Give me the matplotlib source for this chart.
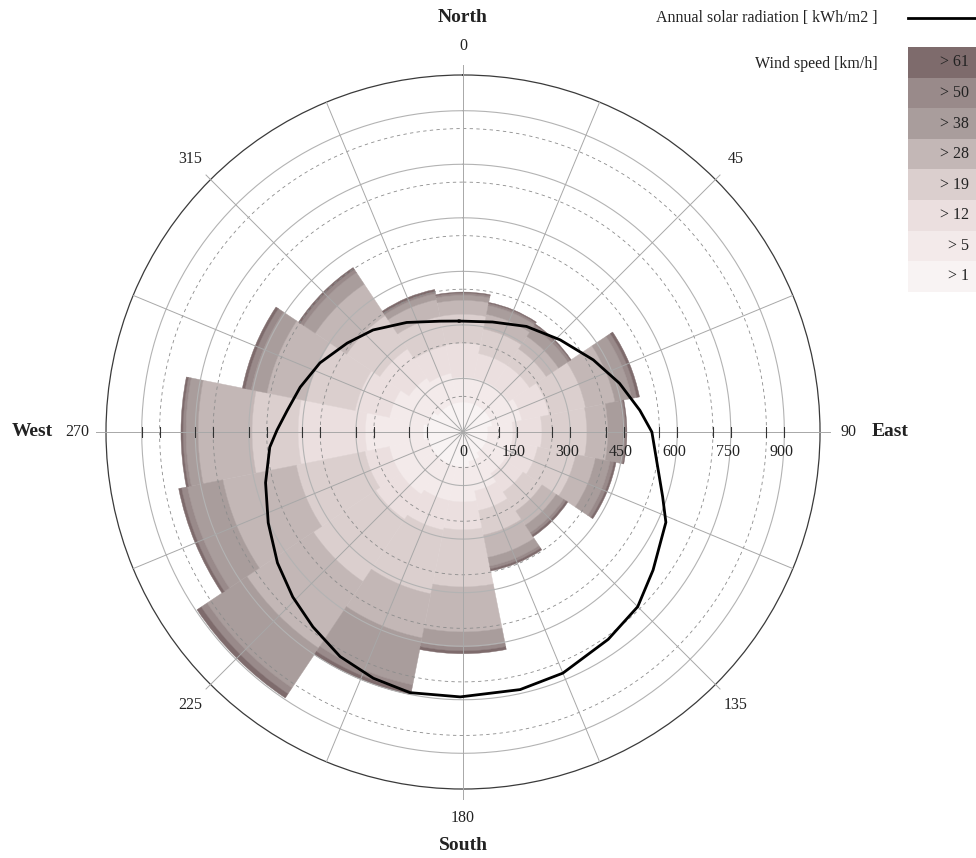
"""
Wind rose with annual solar radiation overlay. Saves out.png.
"""

import matplotlib
matplotlib.use("Agg")
import matplotlib.pyplot as plt
import numpy as np
from matplotlib.patches import Rectangle

plt.rcParams["font.family"] = ["Liberation Serif", "DejaVu Serif"]

# 16 compass sectors, clockwise from north
DIRECTIONS = np.arange(0, 360, 22.5)

# wind speed bins, innermost first
SPEED_LABELS = ["> 1", "> 5", "> 12", "> 19", "> 28", "> 38", "> 50", "> 61"]
SPEED_COLORS = ["#f8f3f3", "#f3eaea", "#ebdfdf", "#dbcfce",
                "#c3b7b6", "#a99d9c", "#998a8a", "#7e6b6c"]

# stacked segment lengths per sector, in radial axis units
wind_gt1 = [84, 84, 84, 84, 70, 70, 70, 84, 98, 98, 98, 98, 112, 98, 84, 84]
wind_gt5 = [70, 70, 70, 84, 70, 70, 70, 84, 98, 98, 112, 112, 162, 112, 98, 84]
wind_gt12 = [95, 70, 70, 78, 81, 73, 62, 56, 78, 84, 84, 70, 188, 98, 98, 78]
wind_gt19 = [81, 70, 56, 104, 126, 109, 64, 70, 160, 182, 210, 196, 129, 140, 112, 84]
wind_gt28 = [39, 42, 42, 84, 59, 56, 48, 64, 126, 126, 224, 210, 151, 112, 106, 48]
wind_gt38 = [14, 25, 31, 48, 42, 42, 25, 25, 42, 134, 134, 101, 34, 45, 39, 17]
wind_gt50 = [6, 6, 8, 14, 8, 11, 8, 8, 11, 17, 20, 17, 8, 17, 11, 6]
wind_gt61 = [3, 3, 3, 8, 3, 6, 6, 6, 8, 11, 14, 8, 6, 8, 6, 6]
WIND = [wind_gt1, wind_gt5, wind_gt12, wind_gt19,
        wind_gt28, wind_gt38, wind_gt50, wind_gt61]

# annual solar radiation [kWh/m2] by bearing
SOLAR_DEG = [358, 15, 31, 46.5, 61, 72.7, 83, 90, 108, 114, 126, 135,
             145, 157.5, 167.5, 180.6, 191.5, 200, 208.7, 217.6, 225.9,
             234.8, 245, 255.6, 265.5, 270.6, 277, 285.4, 295.8, 307.5,
             318.6, 332.8, 348.3]
SOLAR_KWH = [311, 319, 345, 375, 417, 459, 499, 529, 588, 622, 658, 692,
             709, 731, 739, 742, 745, 734, 717, 689, 664,
             636, 602, 571, 543, 521, 496, 473, 445, 409,
             381, 345, 317]

RING_TICKS = [0, 150, 300, 450, 600, 750, 900]
RMAX = 1000

fig = plt.figure(figsize=(9.76, 8.58), dpi=100)
ax = fig.add_axes([0.1086, 0.0804, 0.7316, 0.8322], projection="polar")
ax.set_theta_zero_location("N")
ax.set_theta_direction(-1)
ax.set_ylim(0, RMAX)
ax.grid(False)
ax.set_xticks([])
ax.set_yticks([])
ax.spines["polar"].set_color("#3a3a3a")
ax.spines["polar"].set_linewidth(0.9)

# stacked wind bars
theta = np.deg2rad(DIRECTIONS)
width = np.deg2rad(22.5)
bottom = np.zeros(len(DIRECTIONS))
for vals, col in zip(WIND, SPEED_COLORS):
    ax.bar(theta, vals, width=width, bottom=bottom, color=col,
           edgecolor=col, linewidth=0.3, zorder=2)
    bottom += np.array(vals)

# rings: solid at the labelled values, dashed in between
circ = np.linspace(0, 2 * np.pi, 361)
for r in RING_TICKS[1:]:
    ax.plot(circ, np.full_like(circ, r), color="#b3b3b3", lw=0.8, zorder=3)
for r in range(100, 1000, 150):
    ax.plot(circ, np.full_like(circ, r), color="#8c8c8c", lw=0.6,
            ls=(0, (4, 4)), zorder=3)

# spokes
for d in DIRECTIONS:
    end = RMAX
    if d % 90 == 0:
        end = 1028
    elif d % 45 == 0:
        end = 1018
    ax.plot([np.deg2rad(d)] * 2, [0, end], color="#a8a8a8", lw=0.7,
            zorder=3, clip_on=False)

# tick marks along the east-west axis
marks = sorted(RING_TICKS[1:] + list(range(100, 1000, 150)))
for side in (np.pi / 2, 3 * np.pi / 2):
    ax.plot([side] * len(marks), marks, ls="none", marker="|", ms=7,
            mew=0.8, color="#333333", zorder=4)

for v in RING_TICKS:
    ax.annotate(str(v), xy=(np.pi / 2, v), xytext=(-3 if v else 0, -20),
                textcoords="offset pixels", ha="center", va="center",
                fontsize=11.5, color="#222222", zorder=5)

# solar radiation curve
sol_t = np.deg2rad(SOLAR_DEG + [SOLAR_DEG[0]])
sol_r = SOLAR_KWH + [SOLAR_KWH[0]]
ax.plot(sol_t, sol_r, color="black", lw=2.0, zorder=6,
        solid_joinstyle="round")

# compass labels
RLAB = 1081
for d in range(0, 360, 45):
    ax.text(np.deg2rad(d), RLAB, str(d), ha="center", va="center",
            fontsize=11.5, color="#222222")

# legend and cardinal names in pixel coordinates
lg = fig.add_axes([0, 0, 1, 1], facecolor="none")
lg.set_xlim(0, 976)
lg.set_ylim(858, 0)
lg.axis("off")

for name, x, y in [("North", 463, 18), ("South", 463, 845),
                   ("West", 32, 432), ("East", 890, 432)]:
    lg.text(x, y, name, ha="center", va="center", fontsize=14,
            fontweight="bold", color="#222222")

lg.text(878, 18, "Annual solar radiation [ kWh/m2 ]", ha="right",
        va="center", fontsize=11.5, color="#222222")
lg.plot([908, 976], [18, 18], color="black", lw=2.0)
lg.text(878, 64, "Wind speed [km/h]", ha="right", va="center",
        fontsize=11.5, color="#222222")

box_h = 30.6
for i, (lab, col) in enumerate(zip(SPEED_LABELS[::-1], SPEED_COLORS[::-1])):
    y0 = 47 + i * box_h
    lg.add_patch(Rectangle((908, y0), 68, box_h, facecolor=col,
                           edgecolor="none"))
    lg.text(969, y0 + box_h / 2, lab, ha="right", va="center",
            fontsize=11.5, color="#222222")

fig.savefig("out.png", dpi=100)
plt.close(fig)
